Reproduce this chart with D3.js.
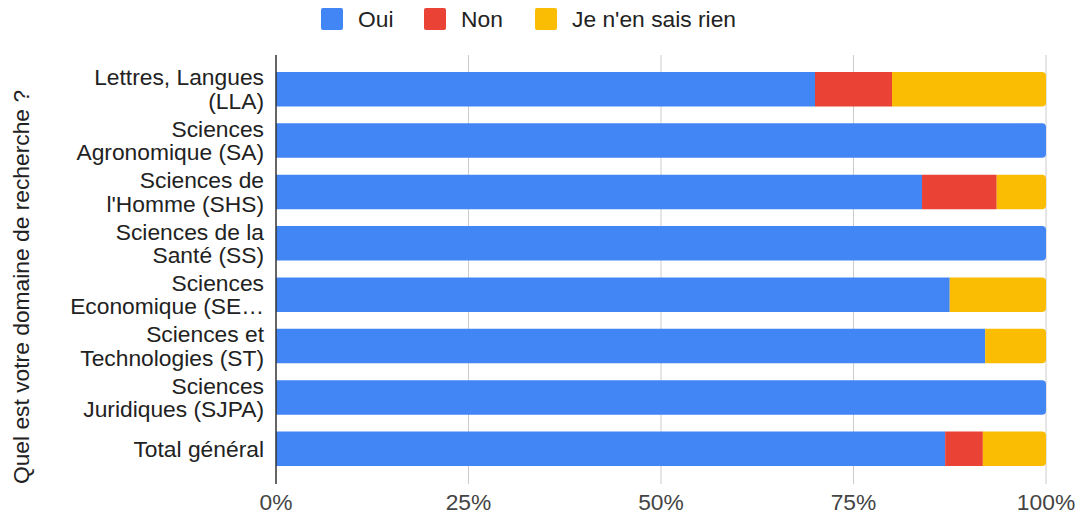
<!DOCTYPE html>
<html><head><meta charset="utf-8">
<script src="https://cdn.jsdelivr.net/npm/d3@7"></script>
<style>body{margin:0;background:#fff}svg{display:block;font-family:"Liberation Sans",Arial,sans-serif}</style>
</head><body>
<script>
const categories = ["Lettres, Langues\n(LLA)","Sciences\nAgronomique (SA)","Sciences de\nl'Homme (SHS)","Sciences de la\nSanté (SS)","Sciences\nEconomique (SE…","Sciences et\nTechnologies (ST)","Sciences\nJuridiques (SJPA)","Total général"];
const oui = [0.70, 1, 0.839, 1, 0.875, 0.921, 1, 0.869];
const non = [0.10, 0, 0.097, 0, 0, 0, 0, 0.049];
const nsp = [0.20, 0, 0.064, 0, 0.125, 0.079, 0, 0.082];
const seriesNames = ["Oui","Non","Je n'en sais rien"];
const colors = ["#4285F4","#EA4335","#FBBC04"];
const xTicks = [0,0.25,0.5,0.75,1];

const W=1080,H=516,FS=22.8;
const svg=d3.select("body").append("svg").attr("width",W).attr("height",H);
const x=d3.scaleLinear().domain([0,1]).range([276,1046]);
const y=d3.scaleBand().domain(categories).range([63.5,474.5]).paddingInner(0.33).paddingOuter(0.165);

svg.append("g").selectAll("line").data(xTicks.slice(1)).join("line")
 .attr("x1",d=>x(d)).attr("x2",d=>x(d)).attr("y1",55).attr("y2",484)
 .attr("stroke","#cccccc").attr("stroke-width",1);

const series=[oui,non,nsp];
const rows=categories.map((c,i)=>{let acc=0;const segs=[];series.forEach((s,k)=>{if(s[i]>0){segs.push({k,x0:acc,x1:acc+s[i]});}acc+=s[i];});return {c,segs};});

function segPath(x0,x1,y0,h,round){
  const r=round?Math.min(4,(x1-x0)):0;
  return `M${x0},${y0}H${x1-r}`+(r?`Q${x1},${y0} ${x1},${y0+r}V${y0+h-r}Q${x1},${y0+h} ${x1-r},${y0+h}`:`V${y0+h}`)+`H${x0}Z`;
}
const bars=svg.append("g");
rows.forEach(r=>{
  r.segs.forEach((s,j)=>{
    bars.append("path").attr("fill",colors[s.k])
      .attr("d",segPath(x(s.x0),x(s.x1),y(r.c),y.bandwidth(),j===r.segs.length-1));
  });
});

svg.append("line").attr("x1",276).attr("x2",276).attr("y1",55).attr("y2",484).attr("stroke","#333").attr("stroke-width",1.5);

svg.append("g").selectAll("text").data(xTicks).join("text")
 .attr("x",d=>x(d)).attr("y",510).attr("text-anchor","middle").attr("font-size",FS).attr("fill","#444")
 .text(d=>d3.format(".0%")(d));

const lab=svg.append("g");
categories.forEach(c=>{
  const lines=c.split("\n");
  const cy=y(c)+y.bandwidth()/2;
  const lh=23.5;
  const t=lab.append("text").attr("text-anchor","end").attr("font-size",FS).attr("fill","#222");
  lines.forEach((l,i)=>{
    t.append("tspan").attr("x",264).attr("y",cy+(i-(lines.length-1)/2)*lh+8).text(l);
  });
});

svg.append("text").attr("transform","translate(29,287) rotate(-90)").attr("text-anchor","middle")
 .attr("font-size",FS).attr("fill","#222").text("Quel est votre domaine de recherche ?");

const legX=[321,424,535];
seriesNames.forEach((n,i)=>{
  svg.append("rect").attr("x",legX[i]).attr("y",8).attr("width",22).attr("height",22).attr("rx",2).attr("fill",colors[i]);
  svg.append("text").attr("x",legX[i]+37).attr("y",27).attr("font-size",FS).attr("fill","#222").text(n);
});
</script>
</body></html>
